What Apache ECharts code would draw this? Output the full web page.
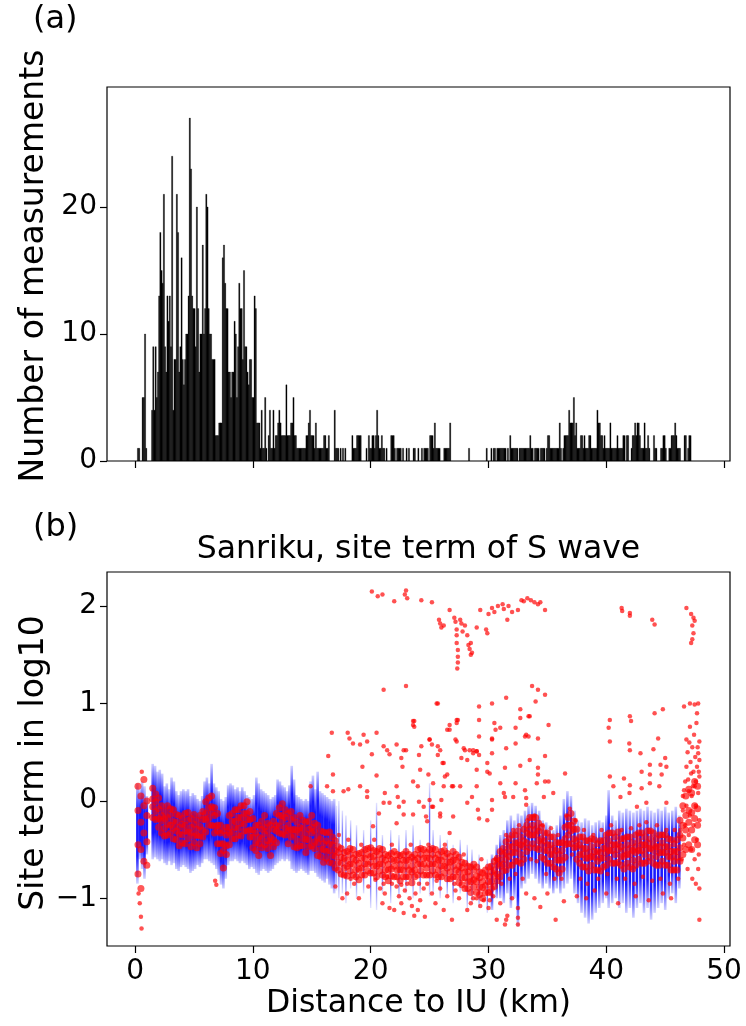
<!DOCTYPE html>
<html><head><meta charset="utf-8">
<script src="https://cdn.jsdelivr.net/npm/echarts@6/dist/echarts.min.js"></script>
<style>html,body{margin:0;padding:0;background:#fff}#c{width:746px;height:1026px}</style>
</head><body><div id="c"></div>
<script>
// ---------------- DATA ----------------
// (a) histogram: counts in bins of width histBinWidth starting at histBinStart (km)
const histBinStart = 0.0;
const histBinWidth = 0.1;
const histCounts = [
0,0,1,1,0,0,5,5,10,1, 0,0,0,0,4,9,4,9,5,7, 13,18,15,14,21,9,7,13,11,13, 9,24,4,8,8,21,18,7,9,16,
8,6,8,10,10,13,27,23,13,12, 12,9,20,12,7,10,10,17,10,12, 21,20,12,10,10,8,8,8,2,2, 2,3,3,3,16,17,14,12,12,7,
7,5,7,7,11,10,5,9,14,12, 12,8,15,9,9,7,6,8,8,5, 5,13,12,3,3,3,1,4,1,1, 5,1,0,2,4,1,1,4,1,2,
2,3,4,3,2,2,2,2,6,2, 2,2,3,3,5,2,2,1,1,1, 1,1,1,1,1,2,2,3,4,2, 2,2,1,3,1,1,1,1,1,1,
2,2,1,1,2,0,0,0,0,4, 1,1,1,0,1,0,1,0,1,0, 0,0,0,0,2,1,1,1,2,2, 2,2,0,0,0,0,1,0,2,1,
1,2,2,1,2,4,2,1,1,2, 1,1,0,1,0,0,0,2,2,2, 1,0,1,1,1,1,0,1,0,0, 1,0,1,0,0,0,1,1,0,0,
1,0,0,1,0,1,1,1,1,0, 2,2,2,1,3,1,1,1,1,0, 0,0,1,1,1,1,1,3,0,0, 0,0,0,0,0,0,0,0,0,0,
0,0,0,1,0,0,0,0,0,0, 0,0,0,0,0,0,0,0,1,0, 0,0,1,0,1,1,0,1,1,1, 1,1,1,1,1,0,1,0,2,1,
1,1,1,1,1,0,1,1,1,1, 1,1,1,1,1,2,1,1,0,1, 1,1,1,0,1,1,1,1,0,1, 2,2,1,1,1,1,1,1,1,1,
3,1,0,1,2,2,2,2,4,3, 3,3,5,2,3,1,1,1,2,2, 1,2,1,1,1,2,2,1,1,1, 1,1,4,3,3,2,2,1,2,1,
1,1,1,3,1,1,1,1,1,2, 1,1,1,1,2,2,0,2,2,0, 0,1,2,2,3,2,3,3,2,1, 1,1,3,1,1,2,1,0,0,0,
2,1,1,0,0,0,1,1,2,2, 1,0,0,1,1,2,2,2,3,2, 1,1,1,0,0,0,2,2,0,1, 2,2
];

// (b) blue error bars (dense parts): distance, lower end, upper end
const errX = [0.2,0.4,0.6,0.8,1.0,
1.5,1.7,1.9,2.1,2.3,2.5,2.7,2.9,3.1,3.3,3.5,3.7,3.9,4.1,4.3,4.5,4.7,4.9,5.1,5.3,5.5,5.7,5.9,6.1,6.3,6.5,6.7,6.9,7.1,7.3,7.5,7.7,7.9,
8.1,8.3,8.5,8.7,8.9,9.1,9.3,9.5,9.7,9.9,10.1,10.3,10.5,10.7,10.9,11.1,11.3,11.5,11.7,11.9,12.1,12.3,12.5,12.7,12.9,13.1,13.3,13.5,13.7,13.9,
14.1,14.3,14.5,14.7,14.9,15.1,15.3,15.5,15.7,15.9,16.1,16.3,16.5,16.7,16.9,
30.3,30.7,31.0,31.3,31.6,31.9,32.2,32.5,32.8,33.1,33.4,33.7,34.0,34.3,34.6,34.9,
35.2,35.5,35.8,36.1,36.4,36.7,37.0,37.3,37.6,37.9,38.2,38.5,38.8,39.1,39.4,39.7,40.0,40.2,40.5,40.8,41.1,41.4,41.7,42.0,42.3,42.6,42.9,43.2,
43.5,43.8,44.1,44.4,44.7,45.0,45.3,45.6,45.9,46.2];
const errLo = [-0.85,-0.6,-0.7,-0.8,-0.55,
-0.6,-0.58,-0.6,-0.62,-0.6,-0.64,-0.66,-0.62,-0.66,-0.64,-0.7,-0.72,-0.68,-0.66,-0.68,-0.7,-0.74,-0.72,-0.7,-0.66,-0.68,-0.64,-0.6,-0.6,-0.62,-0.64,-0.66,-0.7,-0.76,-0.86,-0.9,-0.8,-0.66,
-0.62,-0.62,-0.6,-0.62,-0.64,-0.62,-0.64,-0.66,-0.7,-0.68,-0.7,-0.74,-0.76,-0.72,-0.7,-0.72,-0.74,-0.72,-0.7,-0.66,-0.64,-0.62,-0.6,-0.62,-0.6,-0.62,-0.7,-0.72,-0.74,-0.72,
-0.7,-0.72,-0.74,-0.76,-0.72,-0.72,-0.74,-0.78,-0.8,-0.82,-0.84,-0.8,-0.86,-0.9,-0.95,
-1.12,-1.0,-1.0,-1.05,-0.95,-1.1,-1.0,-1.29,-0.9,-0.85,-0.8,-0.75,-0.8,-0.85,-0.9,-0.85,
-0.9,-0.95,-0.9,-0.95,-0.9,-0.85,-0.8,-0.95,-1.05,-1.15,-1.2,-1.26,-1.22,-1.15,-1.1,-1.05,-1.0,-1.1,-1.05,-1.0,-1.1,-1.05,-1.15,-1.1,-1.2,-1.1,-1.05,-1.15,
-1.1,-1.22,-1.15,-1.1,-1.05,-1.12,-1.0,-0.95,-1.05,-0.9];
const errHi = [0.18,0.12,0.2,0.15,0.05,
0.38,0.36,0.3,0.32,0.28,0.15,0.18,0.12,0.24,0.2,0.1,0.06,0.1,0.12,0.1,0.12,0.05,0.08,0.06,0.02,0.0,0.05,0.2,0.24,0.18,0.38,0.18,0.14,0.1,0.02,0.0,0.04,0.16,
0.18,0.16,0.12,0.14,0.1,0.14,0.1,0.06,0.04,0.02,0.06,0.24,0.18,0.12,0.1,0.08,0.06,0.02,0.04,0.06,0.22,0.2,0.16,0.14,0.1,0.16,0.36,0.22,0.06,0.04,
0.02,0.0,0.02,0.0,0.2,0.26,0.12,0.3,0.1,0.08,0.06,0.04,0.02,0.0,0.02,
-0.55,-0.45,-0.35,-0.3,-0.2,-0.15,-0.2,-0.13,-0.15,-0.1,-0.05,-0.02,-0.05,-0.1,-0.2,-0.22,
-0.25,-0.3,-0.25,-0.15,0.02,0.1,0.05,-0.1,-0.2,-0.22,-0.18,-0.2,-0.25,-0.22,-0.2,-0.22,-0.15,0.11,-0.15,-0.2,-0.1,-0.12,-0.08,-0.1,-0.12,-0.1,-0.08,-0.1,
-0.06,-0.1,-0.12,-0.08,-0.1,-0.06,-0.12,-0.1,-0.06,-0.15];

// (b) blue error bars (sparse part, 17-30 km)
const errSparseX = [17.1,17.3,17.6,17.9,18.3,18.8,19.4,20.0,20.5,21.0,21.7,22.4,23.0,23.6,24.2,25.0,25.3,25.9,26.5,27.0,27.6,28.2,28.6,29.2,29.9];
const errSparseLo = [-0.92,-1.0,-0.95,-1.05,-0.9,-1.0,-0.95,-1.1,-1.12,-0.95,-1.05,-1.0,-0.95,-1.0,-0.95,-0.98,-0.95,-1.0,-0.98,-1.05,-0.95,-1.1,-1.05,-1.1,-1.15];
const errSparseHi = [-0.05,0.0,-0.1,-0.15,-0.2,-0.25,-0.3,-0.2,-0.02,-0.35,-0.3,-0.35,-0.3,-0.25,-0.4,0.18,-0.3,-0.35,-0.4,-0.45,-0.4,-0.45,-0.5,-0.55,-0.6];

// (b) red points, dense track: distance and four site-term readings per distance
const trackX = [0.25,0.5,0.75,1.0,
1.5,1.75,2.0,2.25,2.5,2.75,3.0,3.25,3.5,3.75,4.0,4.25,4.5,4.75,5.0,5.25,5.5,5.75,6.0,6.25,6.5,6.75,7.0,7.25,7.5,7.75,
8.0,8.25,8.5,8.75,9.0,9.25,9.5,9.75,10.0,10.25,10.5,10.75,11.0,11.25,11.5,11.75,12.0,12.25,12.5,12.75,13.0,13.25,13.5,13.75,
14.0,14.25,14.5,14.75,15.0,15.25,15.5,15.75,16.0,16.25,16.5,16.75,17.0,17.25,17.5,17.75,18.0,18.25,18.5,18.75,19.0,19.25,19.5,19.75,
20.0,20.25,20.5,20.75,21.0,21.25,21.5,21.75,22.0,22.25,22.5,22.75,23.0,23.25,23.5,23.75,24.0,24.25,24.5,24.75,25.0,25.25,25.5,25.75,
26.0,26.25,26.5,26.75,27.0,27.25,27.5,27.75,28.0,28.25,28.5,28.75,29.0,29.25,29.5,29.75,30.0,30.25,30.5,30.75,31.0,31.25,31.5,31.75,
32.0,32.25,32.5,32.75,33.0,33.25,33.5,33.75,34.0,34.25,34.5,34.75,35.0,35.25,35.5,35.75,36.0,36.25,36.5,36.75,37.0,37.25,37.5,37.75,
38.0,38.25,38.5,38.75,39.0,39.25,39.5,39.75,40.0,40.25,40.5,40.75,41.0,41.25,41.5,41.75,42.0,42.25,42.5,42.75,43.0,43.25,43.5,43.75,
44.0,44.25,44.5,44.75,45.0,45.25,45.5,45.75,46.0,46.25,46.5,46.75,47.0,47.25,47.5,47.75];
const trackY1 = [0.15,0.05,0.22,0.0,
0.13,0.07,0.03,-0.05,-0.11,-0.05,-0.08,-0.09,-0.14,-0.15,-0.18,-0.13,-0.12,-0.18,-0.14,-0.2,-0.15,-0.11,-0.01,0.03,0.05,-0.07,-0.13,-0.25,-0.31,-0.27,
-0.15,-0.13,-0.09,-0.09,-0.05,-0.05,-0.01,-0.11,-0.18,-0.25,-0.25,-0.21,-0.15,-0.23,-0.25,-0.21,-0.13,-0.07,-0.03,-0.09,-0.13,-0.11,-0.17,-0.22,
-0.15,-0.2,-0.22,-0.21,-0.15,-0.23,-0.25,-0.31,-0.32,-0.33,-0.32,-0.37,-0.41,-0.47,-0.49,-0.53,-0.52,-0.49,-0.5,-0.55,-0.54,-0.53,-0.5,-0.49,
-0.48,-0.51,-0.52,-0.49,-0.5,-0.55,-0.56,-0.54,-0.52,-0.55,-0.56,-0.55,-0.52,-0.55,-0.58,-0.55,-0.5,-0.49,-0.5,-0.53,-0.5,-0.49,-0.5,-0.55,
-0.52,-0.51,-0.54,-0.57,-0.52,-0.55,-0.58,-0.63,-0.64,-0.67,-0.68,-0.65,-0.68,-0.73,-0.74,-0.71,-0.68,-0.67,-0.62,-0.59,-0.52,-0.49,-0.42,-0.39,
-0.35,-0.35,-0.31,-0.37,-0.29,-0.25,-0.17,-0.17,-0.17,-0.23,-0.27,-0.33,-0.33,-0.37,-0.37,-0.43,-0.43,-0.43,-0.27,-0.17,-0.13,-0.21,-0.29,-0.37,
-0.37,-0.41,-0.41,-0.39,-0.4,-0.44,-0.41,-0.41,-0.35,-0.33,-0.33,-0.37,-0.32,-0.39,-0.39,-0.37,-0.37,-0.43,-0.35,-0.33,-0.33,-0.37,-0.31,-0.31,
-0.33,-0.39,-0.35,-0.35,-0.35,-0.39,-0.4,-0.44,-0.4,-0.2,-0.05,0.05,0.12,0.08,0.2,0.15];
const trackY2 = [-0.1,-0.22,-0.05,-0.15,
0.02,-0.01,-0.08,-0.15,-0.18,-0.17,-0.14,-0.21,-0.22,-0.27,-0.24,-0.25,-0.2,-0.27,-0.24,-0.29,-0.26,-0.19,-0.13,-0.07,-0.06,-0.15,-0.25,-0.33,-0.44,-0.35,
-0.27,-0.21,-0.21,-0.17,-0.17,-0.13,-0.13,-0.19,-0.3,-0.33,-0.37,-0.29,-0.27,-0.31,-0.37,-0.29,-0.25,-0.15,-0.15,-0.17,-0.25,-0.19,-0.29,-0.3,
-0.27,-0.28,-0.34,-0.29,-0.27,-0.31,-0.37,-0.39,-0.44,-0.41,-0.44,-0.45,-0.51,-0.53,-0.58,-0.59,-0.61,-0.55,-0.59,-0.61,-0.64,-0.59,-0.59,-0.55,
-0.57,-0.57,-0.61,-0.55,-0.59,-0.61,-0.65,-0.6,-0.61,-0.61,-0.65,-0.61,-0.61,-0.61,-0.67,-0.61,-0.59,-0.55,-0.59,-0.59,-0.59,-0.55,-0.59,-0.61,
-0.61,-0.57,-0.63,-0.63,-0.61,-0.61,-0.67,-0.69,-0.73,-0.73,-0.77,-0.71,-0.77,-0.79,-0.83,-0.77,-0.77,-0.73,-0.71,-0.65,-0.61,-0.55,-0.53,-0.47,
-0.47,-0.43,-0.43,-0.45,-0.41,-0.33,-0.29,-0.25,-0.29,-0.31,-0.39,-0.41,-0.45,-0.45,-0.49,-0.51,-0.55,-0.51,-0.39,-0.25,-0.25,-0.29,-0.41,-0.45,
-0.49,-0.49,-0.53,-0.47,-0.52,-0.52,-0.53,-0.49,-0.47,-0.41,-0.45,-0.45,-0.44,-0.47,-0.51,-0.45,-0.49,-0.51,-0.47,-0.41,-0.45,-0.45,-0.43,-0.39,
-0.45,-0.47,-0.47,-0.43,-0.47,-0.47,-0.52,-0.52,-0.52,-0.35,-0.25,-0.15,-0.1,-0.12,-0.05,-0.08];
const trackY3 = [-0.45,-0.5,-0.33,-0.42,
-0.06,-0.11,-0.18,-0.21,-0.28,-0.24,-0.25,-0.28,-0.31,-0.34,-0.35,-0.31,-0.32,-0.33,-0.36,-0.35,-0.36,-0.3,-0.19,-0.18,-0.12,-0.26,-0.31,-0.44,-0.51,-0.46,
-0.33,-0.32,-0.27,-0.28,-0.23,-0.24,-0.19,-0.3,-0.37,-0.43,-0.44,-0.39,-0.34,-0.41,-0.43,-0.4,-0.31,-0.26,-0.21,-0.28,-0.31,-0.3,-0.35,-0.41,
-0.33,-0.39,-0.4,-0.4,-0.33,-0.42,-0.43,-0.5,-0.5,-0.52,-0.51,-0.56,-0.57,-0.63,-0.64,-0.69,-0.67,-0.65,-0.65,-0.71,-0.7,-0.69,-0.65,-0.65,
-0.63,-0.67,-0.67,-0.65,-0.65,-0.71,-0.71,-0.7,-0.67,-0.71,-0.71,-0.71,-0.67,-0.71,-0.73,-0.71,-0.65,-0.65,-0.65,-0.69,-0.65,-0.65,-0.65,-0.71,
-0.67,-0.67,-0.69,-0.73,-0.67,-0.71,-0.73,-0.79,-0.79,-0.83,-0.83,-0.81,-0.83,-0.89,-0.89,-0.87,-0.83,-0.83,-0.77,-0.75,-0.67,-0.65,-0.6,-0.57,
-0.53,-0.53,-0.49,-0.55,-0.47,-0.43,-0.35,-0.35,-0.35,-0.41,-0.45,-0.51,-0.51,-0.55,-0.55,-0.61,-0.61,-0.61,-0.45,-0.35,-0.31,-0.39,-0.47,-0.55,
-0.55,-0.59,-0.59,-0.57,-0.58,-0.62,-0.59,-0.59,-0.53,-0.51,-0.51,-0.55,-0.5,-0.57,-0.57,-0.55,-0.55,-0.61,-0.53,-0.51,-0.51,-0.55,-0.49,-0.49,
-0.51,-0.57,-0.53,-0.53,-0.53,-0.57,-0.58,-0.62,-0.58,-0.48,-0.38,-0.3,-0.22,-0.3,-0.18,-0.25];
const trackY4 = [-0.75,-0.9,-0.62,-0.66,
-0.17,-0.19,-0.27,-0.33,-0.36,-0.35,-0.33,-0.39,-0.4,-0.46,-0.43,-0.44,-0.39,-0.47,-0.43,-0.48,-0.44,-0.37,-0.32,-0.25,-0.25,-0.33,-0.44,-0.54,-0.69,-0.55,
-0.45,-0.39,-0.39,-0.35,-0.36,-0.31,-0.31,-0.37,-0.48,-0.51,-0.56,-0.48,-0.45,-0.49,-0.56,-0.47,-0.43,-0.33,-0.34,-0.35,-0.44,-0.37,-0.47,-0.48,
-0.46,-0.46,-0.53,-0.47,-0.46,-0.49,-0.56,-0.57,-0.63,-0.59,-0.63,-0.64,-0.69,-0.71,-0.75,-0.76,-0.77,-0.72,-0.76,-0.78,-0.81,-0.76,-0.76,-0.72,
-0.74,-0.74,-0.78,-0.72,-0.76,-0.78,-0.82,-0.77,-0.78,-0.78,-0.82,-0.78,-0.78,-0.78,-0.84,-0.78,-0.76,-0.72,-0.76,-0.76,-0.76,-0.72,-0.76,-0.78,
-0.78,-0.74,-0.8,-0.8,-0.78,-0.78,-0.84,-0.86,-0.9,-0.9,-0.94,-0.88,-0.94,-0.96,-1.0,-0.94,-0.94,-0.9,-0.88,-0.82,-0.78,-0.72,-0.71,-0.66,
-0.66,-0.62,-0.62,-0.64,-0.6,-0.52,-0.48,-0.44,-0.48,-0.5,-0.58,-0.6,-0.64,-0.64,-0.68,-0.7,-0.74,-0.7,-0.58,-0.44,-0.44,-0.48,-0.6,-0.64,
-0.68,-0.68,-0.72,-0.66,-0.71,-0.71,-0.72,-0.68,-0.66,-0.6,-0.64,-0.64,-0.63,-0.66,-0.7,-0.64,-0.68,-0.7,-0.66,-0.6,-0.64,-0.64,-0.62,-0.58,
-0.64,-0.66,-0.66,-0.62,-0.66,-0.66,-0.71,-0.71,-0.71,-0.62,-0.55,-0.5,-0.45,-0.5,-0.4,-0.45];

// (b) red points, scattered readings
const outX = [
20.1,20.6,21.0,22.0,22.9,23.0,23.1,24.3,25.2,25.8,25.9,26.0,26.2,26.7,27.1,27.2,27.3,27.3,27.3,27.4,27.4,27.4,27.35,27.6,27.7,27.8,28.0,28.2,28.3,28.4,
28.5,28.6,28.5,29.0,29.3,29.9,29.8,30.0,30.3,30.5,30.8,31.2,31.3,31.6,31.7,32.0,32.5,32.8,33.0,33.3,33.6,33.9,34.2,34.4,34.8,41.3,41.35,42.0,42.0,43.9,
44.1,46.8,47.2,47.4,47.3,47.4,47.3,47.5,47.2,
16.7,16.4,16.8,14.9,16.3,18.05,18.2,18.5,19.4,19.7,20.5,21.1,23.0,23.6,23.6,19.1,19.3,20.1,21.1,21.4,21.6,22.2,23.0,22.6,22.7,24.1,24.3,25.0,20.5,19.1,
19.7,19.7,18.1,16.8,17.7,21.2,21.6,22.2,22.3,22.8,23.6,24.0,24.1,24.5,21.1,22.4,22.8,23.6,24.9,24.8,22.2,20.2,20.7,
25.7,25.0,25.2,25.7,25.9,25.7,26.1,26.5,26.3,26.5,26.7,27.3,27.3,27.2,27.3,27.9,28.0,27.7,28.2,28.7,28.7,29.0,29.2,29.2,29.2,29.2,29.9,29.9,30.3,30.5,
30.6,30.3,30.3,31.0,31.5,31.5,31.4,32.3,32.7,32.7,32.3,32.7,33.1,33.2,33.5,33.7,34.0,34.2,34.8,34.2,33.5,34.2,34.8,35.1,35.1,34.8,35.5,36.5,34.2,27.6,
28.6,29.1,29.2,29.9,30.3,30.3,31.3,31.4,32.3,33.2,33.2,24.7,25.0,25.3,26.0,26.2,26.9,27.0,25.9,26.7,
40.3,40.2,40.3,42.0,42.1,41.95,42.0,42.9,44.1,44.8,44.0,44.4,45.0,45.1,44.6,43.7,43.0,43.7,40.3,40.6,41.5,42.0,41.97,43.0,43.7,44.5,44.7,45.1,41.2,42.6,43.4,
25.6,23.7,23.7,22.8,26.2,27.4,26.7,28.4,29.0,29.0,30.3,33.4,33.4,25.3,24.2,29.0,30.1,31.0,32.1,33.1,34.1,34.7,27.0,28.2,25.9,25.2,
0.5,0.55,0.4,0.3,0.57,6.8,6.9,
17.0,17.6,18.0,18.3,19.0,20.4,20.8,21.0,21.2,21.4,21.6,21.8,22.0,22.2,22.4,22.6,22.8,22.9,23.1,23.3,23.5,23.7,23.8,24.0,24.2,24.5,24.6,24.8,25.2,25.5,
25.9,26.2,26.5,26.9,27.2,27.5,28.2,28.5,29.0,29.3,29.6,30.0,30.4,30.7,31.0,31.4,31.5,31.6,32.0,32.5,32.5,32.5,33.2,33.9,34.4,35.0,35.7,36.4,37.5,38.3,
39.0,40.0,41.0,42.5,43.6,44.8,45.5,47.9,
30.2,30.6,31.1,31.5,31.8,32.1,32.3,32.6,32.9,33.3,33.6,33.9,34.1,34.6,34.9,35.3,35.6,35.9,36.2,36.6,36.9,37.1,37.4,37.8,38.1,38.4,38.9,39.3,39.6,40.1,
40.4,40.9,41.3,41.6,42.1,42.4,42.8,43.1,43.4,43.9,44.3,44.6,45.1,45.4,45.8,46.1,17.3,18.1,18.6,19.2,19.8,20.3,21.1,21.8,22.6,23.4,24.1,24.9,25.6,26.3,
27.1,27.9,28.7,29.4,30.1,
46.3,46.4,46.5,46.5,46.6,46.6,46.7,46.7,46.8,46.8,46.9,46.9,46.95,47.0,47.0,47.05,47.1,47.1,47.1,47.15,47.2,47.2,47.25,47.3,47.3,47.35,47.4,47.4,47.45,47.5,
47.5,47.5,47.55,47.6,47.6,47.65,47.7,47.7,47.7,47.75,47.8,47.8,47.8,47.8,47.85,47.9,47.9,47.9,47.9,47.9,47.85,47.6,46.6,46.8
];
const outY = [
2.15,2.1,2.12,2.05,2.12,2.16,2.08,2.06,2.04,1.86,1.82,1.78,1.8,1.96,1.88,1.84,1.76,1.7,1.62,1.55,1.48,1.42,1.36,1.86,1.82,1.74,1.8,1.7,1.6,1.56,
1.5,1.52,1.62,1.78,1.96,1.72,1.76,1.92,1.98,1.94,2.0,2.02,1.97,1.86,2.0,1.94,1.96,2.06,2.05,2.08,2.06,2.04,2.02,2.04,1.96,1.98,1.95,1.93,1.9,1.86,
1.81,1.98,1.92,1.88,1.8,1.72,1.66,1.85,1.62,
0.70,0.46,0.27,0.15,0.15,0.70,0.64,0.59,0.68,0.61,0.70,1.14,1.18,0.82,0.78,0.58,0.35,0.48,0.56,0.52,0.48,0.58,0.52,0.44,0.35,0.47,0.56,0.63,0.26,0.15,
0.10,0.04,0.12,0.10,0.10,0.08,-0.02,0.15,0.04,-0.01,0.20,0.15,-0.01,-0.06,-0.02,-0.06,-0.14,-0.14,0.27,-0.21,-0.23,-0.26,-0.13,
1.00,0.63,0.58,0.56,0.52,0.47,0.39,0.27,0.25,0.73,0.78,0.83,0.80,0.63,0.61,0.54,0.52,0.44,0.42,0.52,0.49,0.51,0.97,0.83,0.66,0.47,0.39,0.30,1.00,0.80,
0.73,0.64,0.49,0.75,1.06,0.54,0.34,0.75,0.94,0.85,0.59,0.36,0.66,0.68,0.87,1.18,1.02,1.14,1.09,0.64,0.42,0.34,0.46,0.78,0.20,0.20,0.08,0.28,0.27,0.15,
0.04,-0.09,-0.18,-0.20,0.01,-0.09,0.08,0.04,0.18,0.03,-0.04,-0.16,0.01,-0.06,0.01,0.15,0.15,-0.16,-0.13,-0.33,
0.83,0.75,0.61,0.87,0.82,0.59,0.52,0.49,0.90,0.94,0.53,0.64,0.44,0.35,0.37,0.37,0.30,0.27,0.25,0.15,0.23,0.16,0.08,0.13,0.18,0.15,0.27,-0.02,0.04,-0.06,-0.02,
1.0,0.82,0.76,0.52,0.39,0.83,0.73,0.52,0.51,0.32,0.63,0.87,0.66,0.18,0.32,0.15,0.28,0.18,0.04,0.11,0.18,0.04,0.15,-0.02,-0.16,-0.06,
-1.19,-1.31,-1.05,-0.95,0.3,-0.82,-0.86,
-0.88,-1.0,-0.95,-0.8,-1.0,-0.81,-0.9,-1.05,-0.95,-0.78,-1.1,-0.85,-1.12,-0.88,-0.98,-1.05,-1.15,-0.92,-0.85,-1.0,-1.08,-1.18,-0.95,-1.12,-1.02,-0.9,-1.19,-0.85,-0.95,-1.05,
-0.9,-1.12,-0.98,-1.22,-0.92,-1.0,-1.12,-1.05,-1.0,-1.08,-1.02,-1.1,-0.98,-1.22,-1.05,-1.27,-1.22,-1.18,-1.0,-1.27,-1.2,-1.1,-0.95,-1.0,-1.09,-0.95,-1.22,-1.03,-0.98,-1.0,
-0.92,-0.95,-1.05,-0.98,-1.02,-0.95,-1.0,-1.22,
-0.95,-0.6,-0.85,-0.35,-0.8,-0.3,-0.75,-0.25,-0.8,-0.2,-0.6,-0.15,-0.62,-0.25,-0.75,-0.28,-0.8,-0.35,-0.8,-0.15,-0.08,-0.55,-0.2,-0.8,-0.3,-0.85,-0.35,-0.8,-0.3,-0.75,
-0.25,-0.8,-0.3,-0.8,-0.28,-0.85,-0.25,-0.78,-0.22,-0.82,-0.25,-0.8,-0.3,-0.85,-0.3,-0.8,-0.35,-0.4,-0.85,-0.45,-0.88,-0.4,-0.85,-0.45,-0.86,-0.45,-0.85,-0.45,-0.82,-0.45,
-0.85,-0.55,-1.0,-0.6,-1.02,
-0.3,-0.6,-0.1,0.05,0.11,-0.45,-0.25,0.2,0.35,-0.05,-0.7,0.5,0.22,-0.35,0.1,0.6,0.76,1.0,-0.15,0.4,0.28,-0.5,0.05,0.55,-0.8,0.15,0.3,-0.25,0.68,0.99,
0.15,-0.6,0.45,0.2,-0.05,0.8,0.9,0.35,-0.4,0.55,1.0,0.49,0.08,-0.7,0.3,0.61,0.42,0.25,-0.2,-0.9,-0.55,-0.85,0.97,0.63
];

// axis tick values
const xTicks = [0, 10, 20, 30, 40, 50];
const yTicksA = [0, 10, 20];
const yTicksB = [-1, 0, 1, 2];

// ---------------- CHART ----------------
const FONT = 'DejaVu Sans';
const histData = histCounts.map((c, i) => [histBinStart + i * histBinWidth, c]);
const errData = errX.map((x, i) => [x, errLo[i], errHi[i]]);
const errSparseData = errSparseX.map((x, i) => [x, errSparseLo[i], errSparseHi[i]]);
const trackData = [];
[trackY1, trackY2, trackY3, trackY4].forEach(arr => arr.forEach((y, i) => trackData.push([trackX[i], y])));
const outData = outX.map((x, i) => [x, outY[i]]);

const tickCommon = { show: true, inside: false, length: 7, lineStyle: { color: '#000', width: 1.2 } };
const labelCommon = { color: '#000', fontFamily: FONT, fontSize: 28 };

function xAxisDef(idx, showLabels) {
  return {
    type: 'value', gridIndex: idx, min: -2.38, max: 50.5,
    axisLine: { show: false, onZero: false }, splitLine: { show: false },
    axisTick: Object.assign({ customValues: xTicks }, tickCommon),
    axisLabel: Object.assign({ show: showLabels, customValues: xTicks, margin: 12 }, labelCommon)
  };
}

function errRenderer(width, aMid, aEnd) {
  return (params, api) => {
    const x = api.value(0), lo = api.value(1), hi = api.value(2);
    const a = api.coord([x, hi]), b = api.coord([x, lo]);
    return { type: 'line', shape: { x1: a[0], y1: a[1], x2: b[0], y2: b[1] },
      style: { lineWidth: width, stroke: new echarts.graphic.LinearGradient(0, 0, 0, 1, [
        { offset: 0, color: 'rgba(0,0,255,' + aEnd + ')' }, { offset: 0.28, color: 'rgba(0,0,255,' + aMid + ')' },
        { offset: 0.72, color: 'rgba(0,0,255,' + aMid + ')' }, { offset: 1, color: 'rgba(0,0,255,' + aEnd + ')' }]) } };
  };
}

const chart = echarts.init(document.getElementById('c'), null, { renderer: 'canvas' });
chart.setOption({
  animation: false,
  backgroundColor: '#fff',
  grid: [
    { left: 107, top: 87, width: 623, height: 374, show: true, borderColor: '#000', borderWidth: 1.2, backgroundColor: 'transparent' },
    { left: 107, top: 572, width: 623, height: 374, show: true, borderColor: '#000', borderWidth: 1.2, backgroundColor: 'transparent' }
  ],
  xAxis: [xAxisDef(0, false), xAxisDef(1, true)],
  yAxis: [
    { type: 'value', gridIndex: 0, min: 0, max: 29.45,
      axisLine: { show: false, onZero: false }, splitLine: { show: false },
      axisTick: Object.assign({ customValues: yTicksA }, tickCommon),
      axisLabel: Object.assign({ customValues: yTicksA, margin: 10 }, labelCommon) },
    { type: 'value', gridIndex: 1, min: -1.49, max: 2.35,
      axisLine: { show: false, onZero: false }, splitLine: { show: false },
      axisTick: Object.assign({ customValues: yTicksB }, tickCommon),
      axisLabel: Object.assign({ customValues: yTicksB, margin: 10,
        formatter: v => (v < 0 ? '\u2212' + Math.abs(v) : String(v)) }, labelCommon) }
  ],
  graphic: [
    { type: 'text', left: 33, top: 4, style: { text: '(a)', font: '32px "DejaVu Sans"', fill: '#000' } },
    { type: 'text', left: 33, top: 512, style: { text: '(b)', font: '32px "DejaVu Sans"', fill: '#000' } },
    { type: 'text', x: 418.5, y: 550, style: { text: 'Sanriku, site term of S wave', font: '31.5px "DejaVu Sans"', fill: '#000', align: 'center', verticalAlign: 'middle' } },
    { type: 'text', x: 34, y: 266, rotation: Math.PI / 2, style: { text: 'Number of measurements', font: '33px "DejaVu Sans"', fill: '#000', align: 'center', verticalAlign: 'middle' } },
    { type: 'text', x: 34, y: 763, rotation: Math.PI / 2, style: { text: 'Site term in log10', font: '33px "DejaVu Sans"', fill: '#000', align: 'center', verticalAlign: 'middle' } },
    { type: 'text', x: 418.5, y: 1004, style: { text: 'Distance to IU (km)', font: '31.5px "DejaVu Sans"', fill: '#000', align: 'center', verticalAlign: 'middle' } }
  ],
  series: [
    { type: 'custom', xAxisIndex: 0, yAxisIndex: 0, clip: true, data: histData,
      renderItem: (params, api) => {
        const x0 = api.value(0), c = api.value(1);
        if (!c) return null;
        const p0 = api.coord([x0, c]), p1 = api.coord([x0 + histBinWidth, 0]);
        return { type: 'rect', shape: { x: p0[0], y: p0[1], width: p1[0] - p0[0], height: p1[1] - p0[1] },
          style: { fill: '#000', stroke: '#000', lineWidth: 0.3 } };
      } },
    { type: 'custom', xAxisIndex: 1, yAxisIndex: 1, clip: true, data: errData, z: 2,
      renderItem: errRenderer(2.6, 0.9, 0.15) },
    { type: 'custom', xAxisIndex: 1, yAxisIndex: 1, clip: true, data: errSparseData, z: 2,
      renderItem: errRenderer(1.4, 0.55, 0.1) },
    { type: 'scatter', xAxisIndex: 1, yAxisIndex: 1, data: trackData, symbol: 'circle', symbolSize: 7, z: 3,
      itemStyle: { color: 'rgba(255,0,0,0.82)' }, silent: true },
    { type: 'scatter', xAxisIndex: 1, yAxisIndex: 1, data: outData, symbol: 'circle', symbolSize: 4.5, z: 3,
      itemStyle: { color: 'rgba(255,0,0,0.85)' }, silent: true }
  ]
});
</script></body></html>
